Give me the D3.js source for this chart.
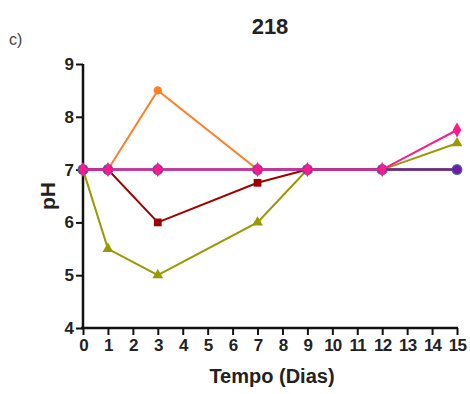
<!DOCTYPE html>
<html><head><meta charset="utf-8">
<script src="https://cdn.jsdelivr.net/npm/d3@7"></script>
<style>body{margin:0;background:#fff;}svg{display:block;font-family:"Liberation Sans",Arial,sans-serif;}</style>
</head><body>
<svg id="c" width="470" height="394"></svg>
<script>
const days = [0, 1, 3, 7, 9, 12, 15];
const xTicks = d3.range(0, 16);
const yTicks = [4, 5, 6, 7, 8, 9];
const orangeVals = [7, 7, 8.5, 7, 7, 7, 7];
const redVals    = [7, 7, 6, 6.75, 7, 7, 7];
const oliveVals  = [7, 5.5, 5, 6, 7, 7, 7.5];
const blueVals   = [7, 7, 7, 7, 7, 7, 7];
const purpleVals = [7, 7, 7, 7, 7, 7, 7];
const pinkVals   = [7, 7, 7, 7, 7, 7, 7.75];

const series = [
  {vals: orangeVals, color:"#ff7f27", sym:d3.symbolCircle, size:55},
  {vals: redVals, color:"#a00000", sym:d3.symbolSquare, size:60},
  {vals: oliveVals, color:"#999900", sym:d3.symbolTriangle, size:50},
  {vals: blueVals, color:"#4a6fb0", sym:d3.symbolCircle, size:95},
  {vals: purpleVals, color:"#6a1fa0", sym:d3.symbolCircle, size:60},
  {vals: pinkVals, color:"#ff1a8c", sym:d3.symbolDiamond, size:65}
];

const svg = d3.select("#c");
const x = d3.scaleLinear().domain([0, 15]).range([83, 457]);
const y = d3.scaleLinear().domain([4, 9]).range([328, 64]);

svg.append("text").attr("x", 270).attr("y", 34).attr("text-anchor","middle")
  .attr("font-size", 22).attr("font-weight","bold").attr("fill","#222").text("218");
svg.append("text").attr("x", 9).attr("y", 45)
  .attr("font-size", 16).attr("fill","#444").text("c)");

const gx = svg.append("g").attr("transform", `translate(0,${y(4)})`)
  .call(d3.axisBottom(x).tickValues(xTicks).tickFormat(d3.format("d")).tickSize(7).tickSizeOuter(0).tickPadding(4));
const gy = svg.append("g").attr("transform", `translate(${x(0)},0)`)
  .call(d3.axisLeft(y).tickValues(yTicks).tickFormat(d3.format("d")).tickSize(7).tickSizeOuter(0).tickPadding(2));
[gx, gy].forEach(g => {
  g.select(".domain").attr("stroke","#111").attr("stroke-width",2.5);
  g.selectAll(".tick line").attr("stroke","#111").attr("stroke-width",2);
  g.selectAll(".tick text").style("font-size","17px").style("font-weight","bold").attr("fill","#222")
    .style("font-family","'Liberation Sans',Arial,sans-serif");
});
gx.selectAll(".tick text").attr("letter-spacing", -0.8);
gx.select(".domain").attr("d", `M${x(0)-2},0H${x(15)+1}`);
gy.select(".domain").attr("d", `M0,${y(9)}H0V${y(4)+1}`);

svg.append("text").attr("x", 272).attr("y", 383).attr("text-anchor","middle")
  .attr("font-size", 20).attr("font-weight","bold").attr("fill","#222").text("Tempo (Dias)");
svg.append("text").attr("transform", `translate(55,${y(6.5)}) rotate(-90)`).attr("text-anchor","middle")
  .attr("font-size", 21).attr("font-weight","bold").attr("fill","#222").text("pH");

const line = d3.line().x((d,i) => x(days[i])).y(d => y(d));
series.forEach(s => {
  const g = svg.append("g");
  g.append("path").attr("d", line(s.vals)).attr("fill","none")
    .attr("stroke", s.color).attr("stroke-width", 2);
  g.selectAll("path.m").data(s.vals).join("path").attr("class","m")
    .attr("transform", (d,i) => `translate(${x(days[i])},${y(d)})`)
    .attr("d", d3.symbol().type(s.sym).size(s.size)).attr("fill", s.color);
});
</script>
</body></html>
